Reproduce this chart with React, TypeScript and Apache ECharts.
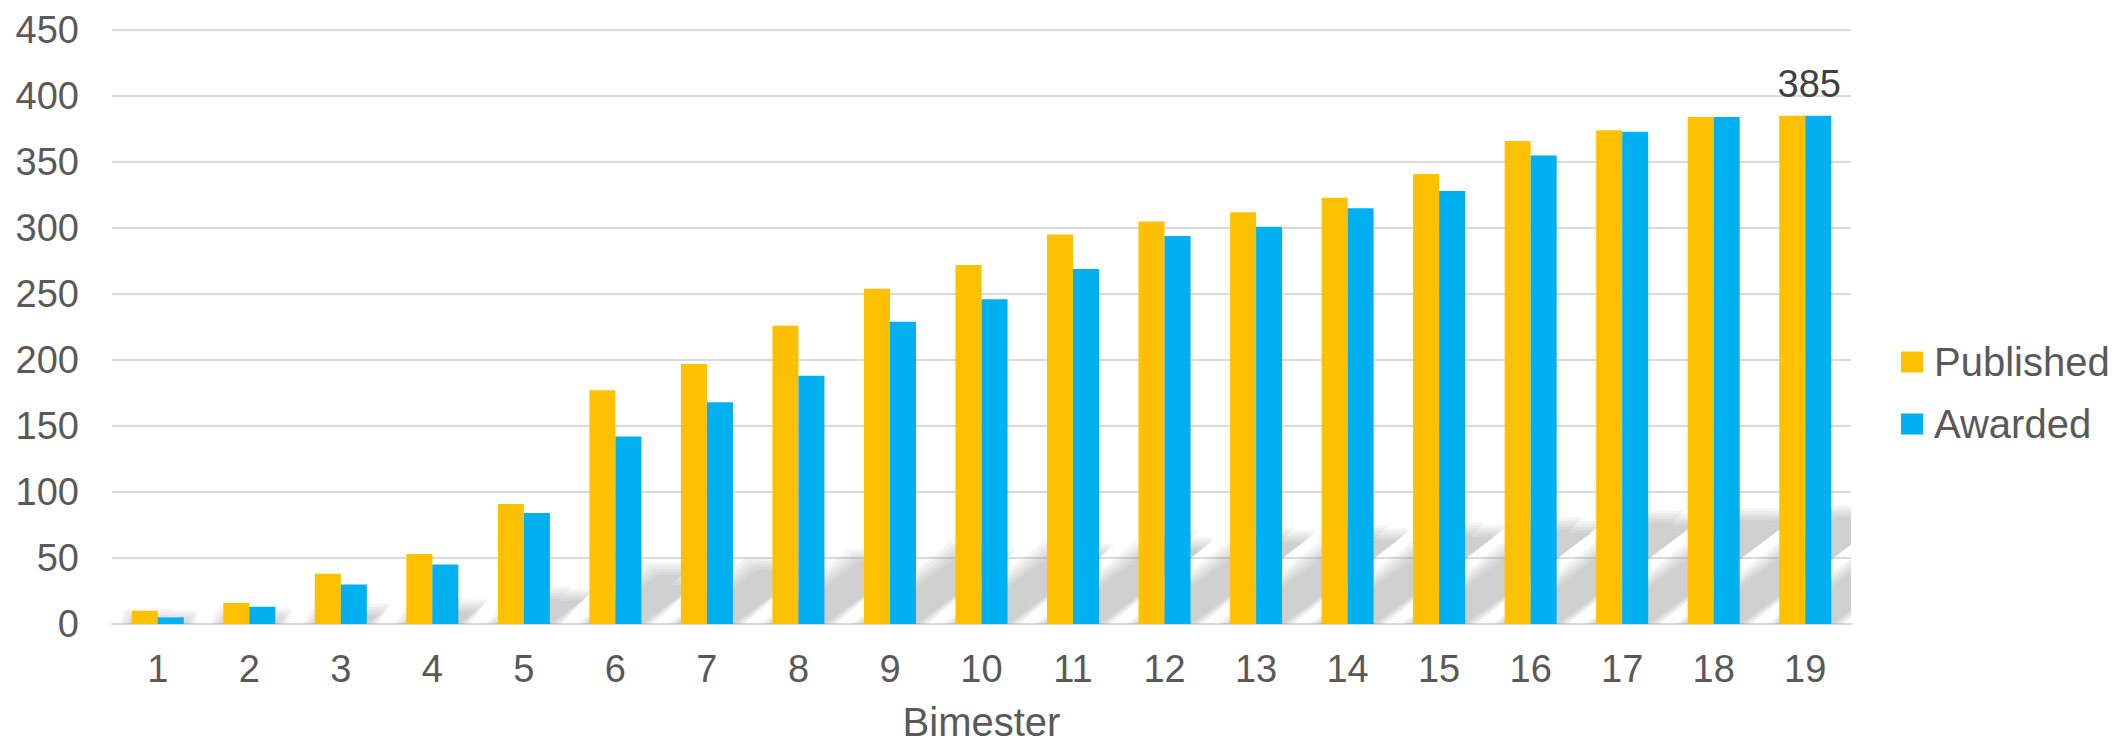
import React, { useEffect, useRef } from "react";
import * as echarts from "echarts";

const categories = ["1","2","3","4","5","6","7","8","9","10","11","12","13","14","15","16","17","18","19"];
const published = [10, 16, 38, 53, 91, 177, 197, 226, 254, 272, 295, 305, 312, 323, 341, 366, 374, 384, 385];
const awarded = [5, 13, 30, 45, 84, 142, 168, 188, 229, 246, 269, 294, 301, 315, 328, 355, 373, 384, 385];
const seriesNames = ["Published", "Awarded"];
const yTicks = { min: 0, max: 450, interval: 50 };
const xAxisName = "Bimester";

const FONT = "'Liberation Sans', Arial, sans-serif";
const TEXT = "#595959";
const GRID = "#D9D9D9";
const YELLOW = "#FFC000";
const BLUE = "#00B0F0";
const BAR_W = 26;
const SHADOW_RATIO = 0.21;
const SHADOW_SKEW = 1.4;

export default function App() {
  const ref = useRef<HTMLDivElement>(null);
  useEffect(() => {
    if (!ref.current) return;
    const chart = echarts.init(ref.current, null, { renderer: "svg" });
    const shadowData = categories.map((_, i) => [i, published[i], awarded[i]]);
    const lastIdx = awarded.length - 1;
    chart.setOption({
      animation: false,
      backgroundColor: "#ffffff",
      textStyle: { fontFamily: FONT },
      grid: { left: 112, right: 264, top: 30, bottom: 115, containLabel: false },
      legend: {
        orient: "vertical",
        left: 1896,
        top: 337,
        itemWidth: 22,
        itemHeight: 21,
        itemGap: 22,
        icon: "rect",
        data: seriesNames,
        textStyle: { fontFamily: FONT, fontSize: 40, color: TEXT, padding: [0, 0, 0, 6] },
      },
      xAxis: {
        type: "category",
        data: categories,
        name: xAxisName,
        nameLocation: "middle",
        nameGap: 78,
        nameTextStyle: { fontFamily: FONT, fontSize: 40, color: TEXT },
        axisTick: { show: false },
        axisLine: { lineStyle: { color: GRID, width: 2 } },
        axisLabel: { fontFamily: FONT, fontSize: 38, color: TEXT, margin: 26 },
      },
      yAxis: {
        type: "value",
        min: yTicks.min,
        max: yTicks.max,
        interval: yTicks.interval,
        axisLine: { show: false },
        axisTick: { show: false },
        splitLine: { lineStyle: { color: GRID, width: 2 } },
        axisLabel: { fontFamily: FONT, fontSize: 38, color: TEXT, margin: 33 },
      },
      series: [
        {
          type: "custom",
          z: 1,
          clip: true,
          silent: true,
          data: shadowData,
          encode: { x: 0, y: 1 },
          renderItem: (params: any, api: any) => {
            const idx = api.value(0);
            const base = api.coord([idx, 0]);
            const by = base[1];
            const topY = api.coord([idx, api.value(1)]);
            const topB = api.coord([idx, api.value(2)]);
            const hY = (by - topY[1]) * SHADOW_RATIO;
            const hB = (by - topB[1]) * SHADOW_RATIO;
            const dY = hY * SHADOW_SKEW;
            const dB = hB * SHADOW_SKEW;
            const L = base[0] - BAR_W;
            const M = base[0];
            const R = base[0] + BAR_W;
            const children: any[] = [];
            [12, 9, 6, 3, 0].forEach((e) => {
              children.push({
                type: "polygon",
                shape: {
                  points: [
                    [L - e, by],
                    [R + e, by],
                    [R + dB + e, by - hB - e],
                    [M + dB + e, by - hB - e],
                    [M + dY + e, by - hY - e],
                    [L + dY - e, by - hY - e],
                  ],
                },
                style: { fill: "rgba(130,130,130,0.09)" },
              });
            });
            return { type: "group", children };
          },
        },
        {
          name: seriesNames[0],
          type: "bar",
          z: 2,
          data: published,
          barWidth: BAR_W,
          barGap: "0%",
          itemStyle: { color: YELLOW },
        },
        {
          name: seriesNames[1],
          type: "bar",
          z: 2,
          data: awarded.map((v, i) =>
            i === lastIdx
              ? {
                  value: v,
                  label: {
                    show: true,
                    position: "top",
                    distance: 13,
                    offset: [-9, 0],
                    fontFamily: FONT,
                    fontSize: 38,
                    color: "#404040",
                  },
                }
              : v
          ),
          barWidth: BAR_W,
          barGap: "0%",
          itemStyle: { color: BLUE },
        },
      ],
    });
    return () => chart.dispose();
  }, []);
  return (
    <div
      ref={ref}
      style={{ position: "fixed", left: 0, top: 0, width: 2115, height: 747 }}
    />
  );
}
